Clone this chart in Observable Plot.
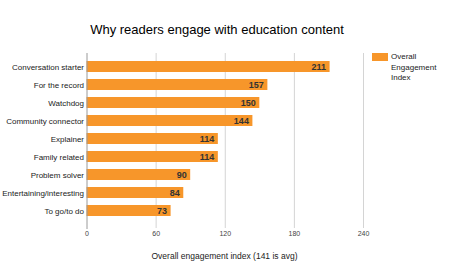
<!DOCTYPE html>
<html>
<head>
<meta charset="utf-8">
<script src="https://cdn.jsdelivr.net/npm/d3@7"></script>
<script src="https://cdn.jsdelivr.net/npm/@observablehq/plot@0.6"></script>
<style>
  body { margin: 0; background: #fff; font-family: "Liberation Sans", Arial, sans-serif; }
  #wrap { position: relative; width: 450px; height: 278px; overflow: hidden; }
  #title { position: absolute; left: 0; width: 434px; top: 22px; text-align: center; font-size: 13px; color: #000; }
  #xtitle { position: absolute; left: 86px; width: 277px; top: 251px; text-align: center; font-size: 8.5px; color: #222; }
  #legend { position: absolute; left: 372px; top: 52px; font-size: 8px; color: #222; line-height: 10.5px; }
  #legend .sw { position: absolute; left: 0; top: 1px; width: 16px; height: 8px; background: #F7962A; }
  #legend .tx { position: absolute; left: 19px; top: 0; white-space: nowrap; }
  svg { position: absolute; left: 0; top: 0; }
</style>
</head>
<body>
<div id="wrap">
  <div id="title">Why readers engage with education content</div>
  <div id="legend"><div class="sw"></div><div class="tx">Overall<br>Engagement<br>Index</div></div>
  <div id="xtitle">Overall engagement index (141 is avg)</div>
</div>
<script>
const categories = ["Conversation starter","For the record","Watchdog","Community connector","Explainer","Family related","Problem solver","Entertaining/interesting","To go/to do"];
const values = [211,157,150,144,114,114,90,84,73];
const xTicks = [0,60,120,180,240];

const data = categories.map((c,i) => ({category: c, value: values[i]}));

const chart = Plot.plot({
  width: 450,
  height: 278,
  marginLeft: 86.5,
  marginRight: 87,
  marginTop: 53,
  marginBottom: 54,
  style: {fontFamily: '"Liberation Sans", Arial, sans-serif', background: "transparent"},
  x: {domain: [0, 240], ticks: xTicks},
  y: {domain: categories, padding: 0.37},
  marks: [
    Plot.ruleX(xTicks.slice(1), {stroke: "#d4d4d4", strokeWidth: 1, insetBottom: -4}),
    Plot.barX(data, {x: "value", y: "category", fill: "#F7962A"}),
    Plot.ruleX([0], {stroke: "#9a9a9a", strokeWidth: 1, insetBottom: -5}),
    Plot.text(data, {x: "value", y: "category", text: d => String(d.value), textAnchor: "end", dx: -4, fontWeight: "bold", fontSize: 9, fill: "#333"}),
    Plot.axisX({ticks: xTicks, tickSize: 0, tickPadding: 7, fontSize: 7, color: "#444", label: null}),
    Plot.axisY({tickSize: 0, tickPadding: 3, fontSize: 8, color: "#222", label: null})
  ]
});
document.getElementById("wrap").prepend(chart);
</script>
</body>
</html>
